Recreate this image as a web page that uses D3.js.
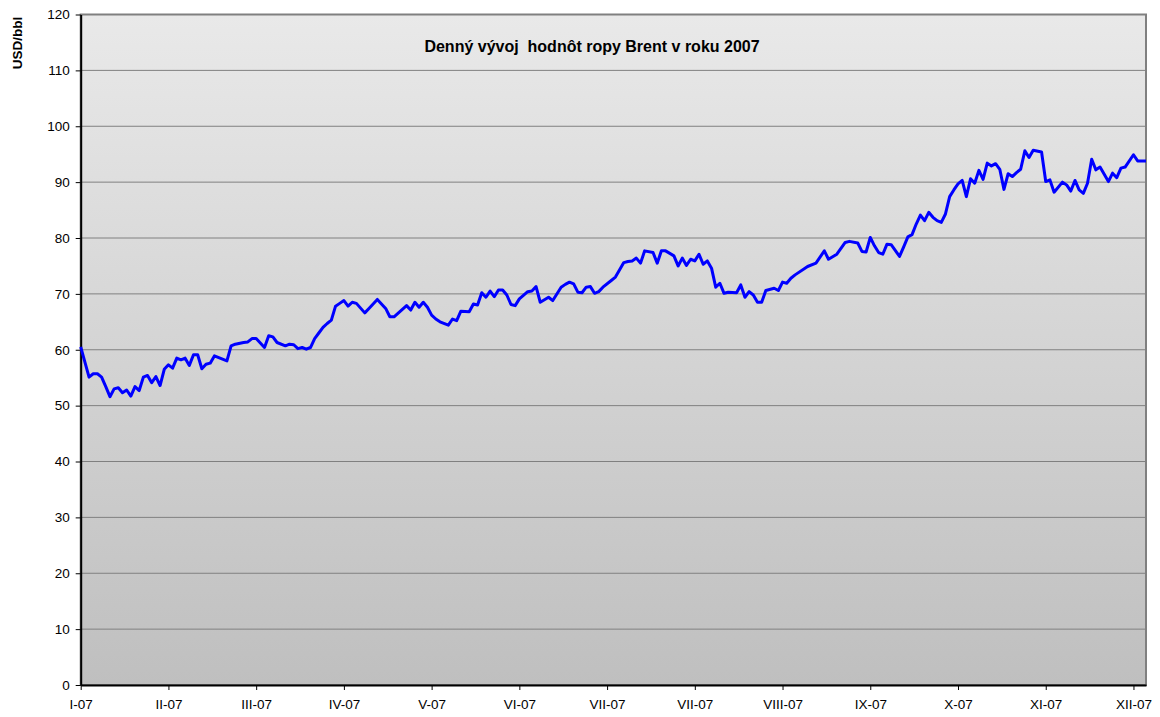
<!DOCTYPE html>
<html>
<head>
<meta charset="utf-8">
<title>Brent 2007</title>
<script src="https://cdn.jsdelivr.net/npm/d3@7"></script>
<style>
  body { margin: 0; background: #fff; }
  text { font-family: Arial, "Liberation Sans", sans-serif; fill: #000; }
</style>
</head>
<body>
<svg id="chart" width="1160" height="717"></svg>
<script>
// month label shown at every 21st trading day (category axis)
const monthLabels = ['I-07', 'II-07', 'III-07', 'IV-07', 'V-07', 'VI-07', 'VII-07',
  'VII-07', 'VIII-07', 'IX-07', 'X-07', 'XI-07', 'XII-07'];
const labelEvery = 21;
const lastDay = 255;
const yTicks = d3.range(0, 121, 10);

// [trading day index, USD/bbl]
const brent = [
  [0,60.5],[2,55.1],[3,55.7],[4,55.7],[5,55.1],[6,53.4],[7,51.6],[8,53.0],[9,53.2],[10,52.3],
  [11,52.8],[12,51.7],[13,53.4],[14,52.7],[15,55.1],[16,55.4],[17,54.1],[18,55.2],[19,53.6],[20,56.5],
  [21,57.3],[22,56.7],[23,58.5],[24,58.2],[25,58.5],[26,57.2],[27,59.1],[28,59.1],[29,56.6],[30,57.4],
  [31,57.6],[32,58.9],[35,58.0],[36,60.7],[37,61.0],[39,61.3],[40,61.4],[41,62.0],[42,62.0],[44,60.4],
  [45,62.5],[46,62.3],[47,61.3],[49,60.7],[50,61.0],[51,60.9],[52,60.2],[53,60.4],[54,60.1],[55,60.4],
  [56,62.0],[57,63.0],[58,64.0],[59,64.7],[60,65.3],[61,67.8],[62,68.3],[63,68.8],[64,67.8],[65,68.5],
  [66,68.3],[68,66.6],[69,67.4],[71,69.0],[73,67.4],[74,65.9],[75,65.9],[78,67.9],[79,67.1],[80,68.5],
  [81,67.6],[82,68.5],[83,67.6],[84,66.2],[85,65.5],[86,65.0],[88,64.4],[89,65.5],[90,65.2],[91,66.9],
  [93,66.8],[94,68.2],[95,68.0],[96,70.2],[97,69.4],[98,70.5],[99,69.5],[100,70.7],[101,70.7],[102,69.8],
  [103,68.1],[104,67.9],[105,69.1],[107,70.4],[108,70.5],[109,71.3],[110,68.5],[112,69.4],[113,68.8],[115,71.2],
  [116,71.7],[117,72.1],[118,71.8],[119,70.3],[120,70.2],[121,71.2],[122,71.3],[123,70.1],[124,70.4],[125,71.2],
  [127,72.4],[128,73.0],[130,75.6],[131,75.8],[132,75.9],[133,76.4],[134,75.5],[135,77.7],[137,77.4],[138,75.5],
  [139,77.7],[140,77.7],[142,76.8],[143,75.0],[144,76.4],[145,75.1],[146,76.2],[147,75.9],[148,77.1],[149,75.3],
  [150,75.9],[151,74.6],[152,71.2],[153,71.9],[154,70.1],[155,70.3],[157,70.2],[158,71.6],[159,69.4],[160,70.4],
  [161,69.8],[162,68.5],[163,68.5],[164,70.6],[166,71.0],[167,70.6],[168,72.1],[169,71.9],[170,72.8],[171,73.4],
  [174,74.9],[176,75.5],[178,77.7],[179,76.2],[181,77.1],[183,79.2],[184,79.4],[186,79.1],[187,77.6],[188,77.5],
  [189,80.1],[190,78.6],[191,77.4],[192,77.1],[193,78.9],[194,78.8],[196,76.7],[197,78.4],[198,80.2],[199,80.6],
  [200,82.5],[201,84.1],[202,83.1],[203,84.6],[204,83.7],[205,83.1],[206,82.8],[207,84.3],[208,87.4],[209,88.6],
  [210,89.7],[211,90.3],[212,87.4],[213,90.6],[214,89.8],[215,92.1],[216,90.5],[217,93.4],[218,92.9],[219,93.3],
  [220,92.3],[221,88.7],[222,91.5],[223,91.0],[224,91.7],[225,92.3],[226,95.6],[227,94.4],[228,95.7],[230,95.4],
  [231,90.1],[232,90.4],[233,88.2],[235,90.0],[236,89.5],[237,88.4],[238,90.3],[239,88.6],[240,88.0],[241,89.8],
  [242,94.1],[243,92.2],[244,92.7],[245,91.4],[246,90.1],[247,91.6],[248,90.8],[249,92.5],[250,92.7],[252,94.9],
  [253,93.8],[255,93.8]
];

let svg = d3.select('#chart');
let plotLeft = 80.7, plotRight = 1146, plotTop = 14.5, plotBottom = 685;

let x = d3.scaleLinear().domain([0, lastDay]).range([plotLeft, plotRight]);
let y = d3.scaleLinear().domain([0, 120]).range([plotBottom, plotTop]);

let grad = svg.append('defs').append('linearGradient')
  .attr('id', 'bg').attr('x1', 0).attr('y1', 0).attr('x2', 0).attr('y2', 1);
grad.append('stop').attr('offset', 0).attr('stop-color', '#e9e9e9');
grad.append('stop').attr('offset', 1).attr('stop-color', '#bfbfbf');

svg.append('rect')
  .attr('x', plotLeft).attr('y', plotTop)
  .attr('width', plotRight - plotLeft).attr('height', plotBottom - plotTop)
  .attr('fill', 'url(#bg)')
  .attr('stroke', '#808080').attr('stroke-width', 2);

// horizontal gridlines
svg.append('g')
  .selectAll('line')
  .data(yTicks.filter(d => d > 0 && d < 120))
  .enter()
  .append('line')
  .attr('x1', plotLeft).attr('x2', plotRight)
  .attr('y1', d => y(d)).attr('y2', d => y(d))
  .attr('stroke', '#808080').attr('stroke-width', 1);

// y axis
let yAxis = svg.append('g')
  .attr('transform', 'translate(' + plotLeft + ',0)')
  .call(d3.axisLeft(y).tickValues(yTicks).tickSize(5).tickSizeOuter(0).tickPadding(6));
yAxis.select('.domain').attr('stroke', '#000').attr('stroke-width', 2);
yAxis.selectAll('.tick line').attr('stroke', '#000');
yAxis.selectAll('text').style('font-size', '13.5px').attr('fill', '#000');

// x axis
let tickDays = monthLabels.map((m, i) => i * labelEvery);
let xAxis = svg.append('g')
  .attr('transform', 'translate(0,' + plotBottom + ')')
  .call(d3.axisBottom(x).tickValues(tickDays)
    .tickFormat((d, i) => monthLabels[i]).tickSize(5).tickSizeOuter(0).tickPadding(9));
xAxis.select('.domain').attr('stroke', '#000').attr('stroke-width', 2);
xAxis.selectAll('.tick line').attr('stroke', '#000');
xAxis.selectAll('text').style('font-size', '13.5px').attr('fill', '#000');

// price line
let line = d3.line().x(d => x(d[0])).y(d => y(d[1]));
svg.append('path')
  .datum(brent)
  .attr('d', line)
  .attr('fill', 'none')
  .attr('stroke', '#0000ff')
  .attr('stroke-width', 3)
  .attr('stroke-linejoin', 'round');

svg.append('text')
  .attr('x', 592).attr('y', 52)
  .attr('text-anchor', 'middle')
  .style('white-space', 'pre')
  .style('font-size', '16px')
  .style('font-weight', 'bold')
  .text('Denný vývoj  hodnôt ropy Brent v roku 2007');

svg.append('text')
  .attr('transform', 'translate(22,43) rotate(-90)')
  .attr('text-anchor', 'middle')
  .style('font-size', '13.5px')
  .style('font-weight', 'bold')
  .text('USD/bbl');
</script>
</body>
</html>
